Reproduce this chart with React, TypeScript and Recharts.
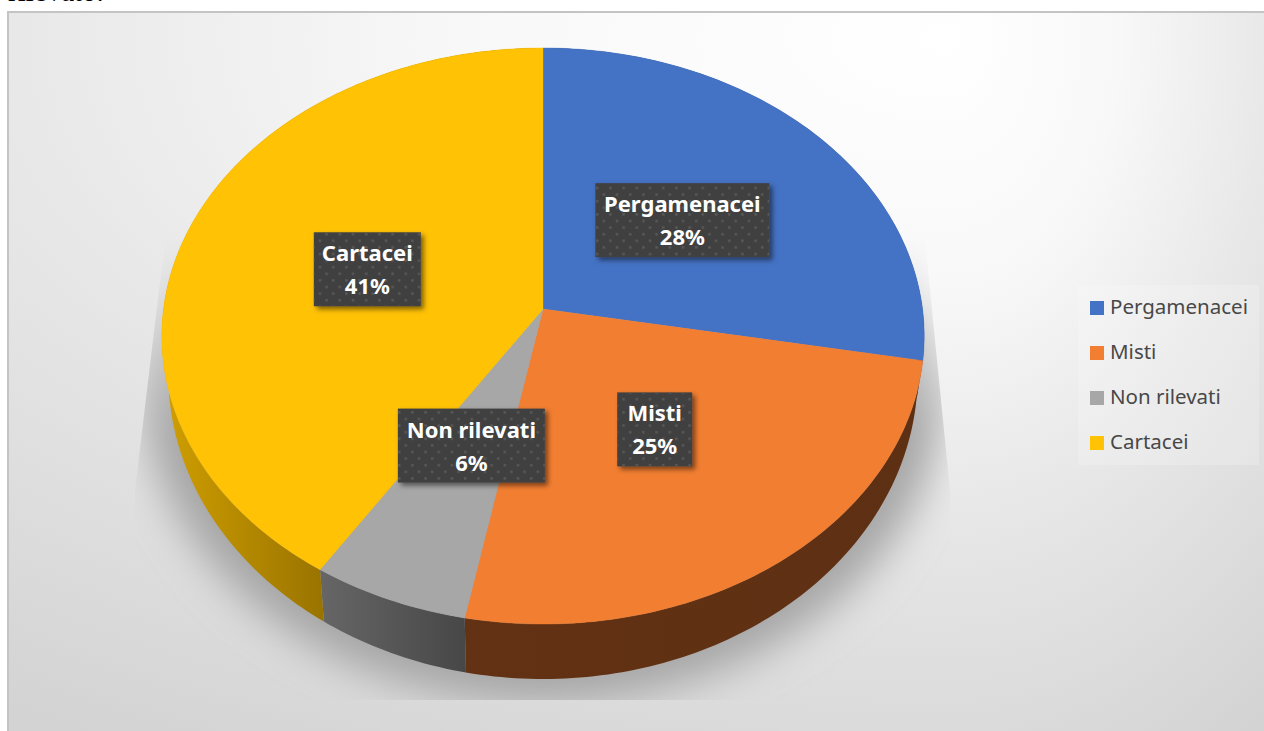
import { Legend, Pie, PieChart } from "recharts";

const NAMES = ["Pergamenacei", "Misti", "Non rilevati", "Cartacei"];
const VALUES = [27.85, 25.15, 6.1, 40.9];
const COLORS = ["#4472c4", "#f27e31", "#a7a7a7", "#ffc205"];
const WALL_FILLS = ["#2a4478", "url(#wallOrange)", "url(#wallGray)", "url(#wallYellow)"];
const BOX_WIDTHS: Record<string, number> = {
  Pergamenacei: 174,
  Misti: 75,
  "Non rilevati": 147,
  Cartacei: 107,
};
// small hand nudges so the boxes sit where Excel put them
const BOX_NUDGE: Record<string, number[]> = {
  Pergamenacei: [-2, 0],
  Misti: [0, -2],
  "Non rilevati": [2, -2],
  Cartacei: [4, 0],
};

const rows = NAMES.map((name, i) => ({
  name,
  value: VALUES[i],
  fill: COLORS[i],
  wallFill: WALL_FILLS[i],
}));

// perspective disc: the same projection for the top face and the bottom rim
const CX = 543;
const TILT = 0.0938;
const TOP = { cy: 309, rx: 379.5, ry: 285.5 };
const BOTTOM = { cy: 346.5, rx: 373, ry: 301.3 };

function project(face: typeof TOP, angle: number, r = 1) {
  const a = (angle * Math.PI) / 180;
  const u = Math.cos(a) * r;
  const v = -Math.sin(a) * r;
  const s = 1 / (1 - TILT * v);
  return [CX + face.rx * u * s, face.cy + face.ry * v * s];
}

function rim(face: typeof TOP, from: number, to: number) {
  const n = Math.max(2, Math.ceil(Math.abs(to - from)));
  const pts: number[][] = [];
  for (let i = 0; i <= n; i++) pts.push(project(face, from + ((to - from) * i) / n));
  return pts;
}

const toPath = (pts: number[][]) =>
  "M" + pts.map((p) => `${p[0].toFixed(2)},${p[1].toFixed(2)}`).join("L") + "Z";

function TopSlice(props: any) {
  const pts = [[CX, TOP.cy], ...rim(TOP, props.startAngle, props.endAngle)];
  return <path d={toPath(pts)} fill={props.fill} stroke={props.fill} strokeWidth={0.4} />;
}

function WallSlice(props: any) {
  const upper = rim(TOP, props.startAngle, props.endAngle);
  const lower = rim(BOTTOM, props.endAngle, props.startAngle);
  return <path d={toPath([...upper, ...lower])} fill={props.wallFill} />;
}

function SliceLabel(props: any) {
  const [mx, my] = project(TOP, props.midAngle, 0.5);
  const nudge = BOX_NUDGE[props.name];
  const x = mx + nudge[0];
  const y = my + nudge[1];
  const w = BOX_WIDTHS[props.name];
  const textStyle = {
    textAnchor: "middle" as const,
    fill: "#fff",
    fontFamily: "'Noto Sans', sans-serif",
    fontWeight: 700,
    fontSize: 22,
  };
  return (
    <g>
      <rect x={x - w / 2} y={y - 37} width={w} height={74} fill="#404040" filter="url(#boxShadow)" />
      <rect x={x - w / 2} y={y - 37} width={w} height={74} fill="url(#boxDots)" />
      <text x={x} y={y - 8} {...textStyle}>
        {props.name}
      </text>
      <text x={x} y={y + 25} {...textStyle}>
        {Math.round(props.percent * 100)}%
      </text>
    </g>
  );
}

function LegendBox({ payload }: any) {
  const items = (payload ?? []).filter((item: any) => item.type !== "none").slice(0, NAMES.length);
  return (
    <div style={{ width: 181, height: 180, background: "rgba(255,255,255,0.2)", position: "relative" }}>
      {items.map((item: any, i: number) => (
        <div
          key={item.value}
          style={{
            position: "absolute",
            left: 12,
            top: 16 + i * 45,
            height: 14,
            display: "flex",
            alignItems: "center",
            whiteSpace: "nowrap",
            fontFamily: "'Noto Sans', sans-serif",
            fontSize: 20.5,
            color: "#484848",
          }}
        >
          <span style={{ width: 14, height: 14, background: item.color, marginRight: 6 }} />
          <span style={{ position: "relative", top: -2 }}>{item.value}</span>
        </div>
      ))}
    </div>
  );
}

const BG_STOPS = "#ffffff 0%, #f8f8f8 30%, #e8e8e8 57%, #d3d3d3 100%";

export default function App() {
  return (
    <div style={{ position: "absolute", left: 0, top: 0, width: 1264, height: 731, overflow: "hidden", background: "#fff" }}>
      <div
        style={{
          position: "absolute",
          left: 8,
          top: -27,
          fontFamily: "'Liberation Serif', serif",
          fontSize: 29,
          color: "#000",
          lineHeight: "36px",
        }}
      >
        rilevato.
      </div>
      <div
        style={{
          position: "absolute",
          left: 7,
          top: 11,
          width: 1270,
          height: 730,
          boxSizing: "border-box",
          border: "2px solid #c4c4c4",
          overflow: "hidden",
        }}
      >
        {/* the fill falls off faster to the right of its light spot than to the left */}
        <div
          style={{
            position: "absolute",
            left: 0,
            top: 0,
            width: 941,
            height: 730,
            background: `radial-gradient(ellipse 1650px 815px at 941px 27px, ${BG_STOPS})`,
          }}
        />
        <div
          style={{
            position: "absolute",
            left: 941,
            top: 0,
            width: 330,
            height: 730,
            background: `radial-gradient(ellipse 560px 815px at 0px 27px, ${BG_STOPS})`,
          }}
        />
      </div>
      <svg width={1264} height={731} style={{ position: "absolute", left: 0, top: 0 }}>
        <defs>
          <linearGradient id="wallOrange" gradientUnits="userSpaceOnUse" x1={465} x2={920} y1={0} y2={0}>
            <stop offset="0" stopColor="#633113" />
            <stop offset="1" stopColor="#5e3013" />
          </linearGradient>
          <linearGradient id="wallGray" gradientUnits="userSpaceOnUse" x1={320} x2={466} y1={0} y2={0}>
            <stop offset="0" stopColor="#666666" />
            <stop offset="1" stopColor="#474747" />
          </linearGradient>
          <linearGradient id="wallYellow" gradientUnits="userSpaceOnUse" x1={165} x2={325} y1={0} y2={0}>
            <stop offset="0" stopColor="#cf9e00" />
            <stop offset="1" stopColor="#997300" />
          </linearGradient>
          <linearGradient id="shadowFade" gradientUnits="userSpaceOnUse" x1={0} x2={0} y1={240} y2={430}>
            <stop offset="0" stopColor="#a6a6a6" stopOpacity={0} />
            <stop offset="1" stopColor="#a6a6a6" stopOpacity={1} />
          </linearGradient>
          <pattern id="boxDots" width={13.2} height={13.2} patternUnits="userSpaceOnUse">
            <rect x={2} y={2} width={2.4} height={2.4} fill="#595959" />
            <rect x={8.6} y={8.6} width={2.4} height={2.4} fill="#595959" />
          </pattern>
          <filter id="pieShadow" x="-20%" y="-20%" width="140%" height="140%">
            <feGaussianBlur stdDeviation={20} />
          </filter>
          <filter id="boxShadow" x="-20%" y="-30%" width="140%" height="160%">
            <feDropShadow dx={3} dy={3} stdDeviation={2.5} floodColor="#000" floodOpacity={0.5} />
          </filter>
          <clipPath id="shadowClip">
            <polygon points="165,240 135,490 135,700 950,700 950,490 925,240" />
          </clipPath>
        </defs>
        <g clipPath="url(#shadowClip)">
          <ellipse cx={543} cy={385} rx={400} ry={318} fill="url(#shadowFade)" filter="url(#pieShadow)" />
        </g>
      </svg>
      <div style={{ position: "absolute", left: 0, top: 0 }}>
        <PieChart width={1264} height={731} margin={{ top: 0, right: 0, bottom: 0, left: 0 }}>
          <Pie
            data={rows}
            dataKey="value"
            nameKey="name"
            cx={CX}
            cy={TOP.cy}
            outerRadius={TOP.rx}
            startAngle={90}
            endAngle={-270}
            legendType="none"
            shape={WallSlice}
            isAnimationActive={false}
          />
          <Pie
            data={rows}
            dataKey="value"
            nameKey="name"
            cx={CX}
            cy={TOP.cy}
            outerRadius={TOP.rx}
            startAngle={90}
            endAngle={-270}
            shape={TopSlice}
            label={SliceLabel}
            labelLine={false}
            isAnimationActive={false}
          />
          <Legend
            content={LegendBox}
            itemSorter={null}
            wrapperStyle={{ left: 1078, top: 285, width: 181, height: 180 }}
          />
        </PieChart>
      </div>
    </div>
  );
}
